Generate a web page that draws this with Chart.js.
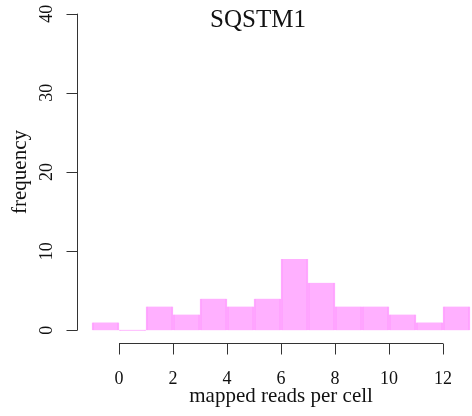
<!DOCTYPE html>
<html>
<head>
<meta charset="UTF-8">
<title>SQSTM1</title>
<script src="https://cdn.jsdelivr.net/npm/chart.js"></script>
<style>
  body { margin: 0; padding: 0; background: #fff; }
  canvas { display: block; }
</style>
</head>
<body>
<canvas id="hist" width="472" height="416"></canvas>
<script>
// histogram bins (left edge) and counts
const binStarts = [-1, 0, 1, 2, 3, 4, 5, 6, 7, 8, 9, 10, 11, 12];
const counts = [1, 0, 3, 2, 4, 3, 4, 9, 6, 3, 3, 2, 1, 3];
const xTicks = [0, 2, 4, 6, 8, 10, 12];
const yTicks = [0, 10, 20, 30, 40];
const title = 'SQSTM1';
const xLabel = 'mapped reads per cell';
const yLabel = 'frequency';

const serif = '"Liberation Serif", "DejaVu Serif", serif';

// R style detached axes drawn from the chart scales
const rAxes = {
  id: 'rAxes',
  afterDraw(chart) {
    const ctx = chart.ctx;
    const xs = chart.scales.x, ys = chart.scales.y;
    const area = chart.chartArea;
    ctx.save();
    ctx.strokeStyle = '#333';
    ctx.fillStyle = '#111';
    ctx.lineWidth = 1;

    // x axis
    const ay = Math.round(area.bottom) + 0.5;
    ctx.beginPath();
    ctx.moveTo(xs.getPixelForValue(xTicks[0]), ay);
    ctx.lineTo(xs.getPixelForValue(xTicks[xTicks.length - 1]), ay);
    xTicks.forEach(t => {
      const px = Math.round(xs.getPixelForValue(t)) + 0.5;
      ctx.moveTo(px, ay);
      ctx.lineTo(px, ay + 11);
    });
    ctx.stroke();
    ctx.font = '18px ' + serif;
    ctx.textAlign = 'center';
    ctx.textBaseline = 'alphabetic';
    xTicks.forEach(t => ctx.fillText(String(t), xs.getPixelForValue(t), ay + 40));
    ctx.font = '21px ' + serif;
    ctx.fillText(xLabel, (area.left + xs.getPixelForValue(13.56)) / 2, 402);

    // y axis
    const ax = Math.round(area.left) + 0.5;
    ctx.beginPath();
    ctx.moveTo(ax, ys.getPixelForValue(yTicks[0]));
    ctx.lineTo(ax, ys.getPixelForValue(yTicks[yTicks.length - 1]));
    yTicks.forEach(t => {
      const py = Math.round(ys.getPixelForValue(t)) + 0.5;
      ctx.moveTo(ax, py);
      ctx.lineTo(ax - 11, py);
    });
    ctx.stroke();
    ctx.font = '18px ' + serif;
    yTicks.forEach(t => {
      ctx.save();
      ctx.translate(52, ys.getPixelForValue(t));
      ctx.rotate(-Math.PI / 2);
      ctx.fillText(String(t), 0, 0);
      ctx.restore();
    });
    ctx.font = '21px ' + serif;
    ctx.save();
    ctx.translate(26, (area.top + area.bottom) / 2);
    ctx.rotate(-Math.PI / 2);
    ctx.fillText(yLabel, 0, 0);
    ctx.restore();

    // title
    ctx.font = '25px ' + serif;
    ctx.fillText(title, 258, 27);
    ctx.restore();
  }
};

new Chart(document.getElementById('hist'), {
  type: 'bar',
  data: {
    datasets: [{
      data: binStarts.map((b, i) => ({ x: b + 0.5, y: counts[i] })),
      backgroundColor: 'rgba(255, 80, 255, 0.45)',
      borderColor: 'rgba(255, 60, 255, 0.36)',
      borderWidth: { left: 1, right: 1, top: 0, bottom: 0 },
      borderSkipped: false,
      barPercentage: 1,
      categoryPercentage: 1,
      minBarLength: 1
    }]
  },
  options: {
    responsive: false,
    animation: false,
    devicePixelRatio: 1,
    layout: { padding: { left: 77, right: 0, top: 1, bottom: 73 } },
    plugins: { legend: { display: false }, tooltip: { enabled: false } },
    scales: {
      x: { type: 'linear', min: -1.556, max: 13.074, offset: false, display: false },
      y: { type: 'linear', min: -1.6, max: 41.6, display: false }
    }
  },
  plugins: [rAxes]
});
</script>
</body>
</html>
